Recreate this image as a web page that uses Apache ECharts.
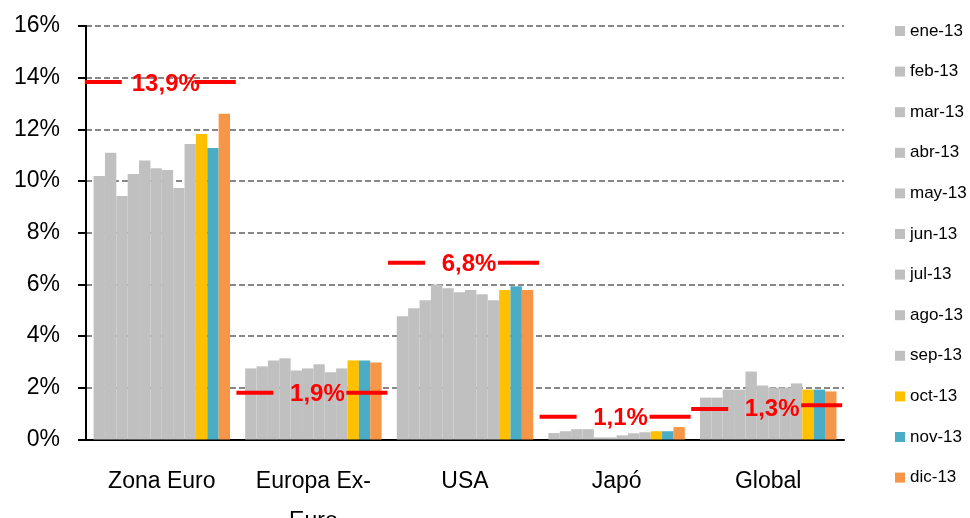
<!DOCTYPE html>
<html>
<head>
<meta charset="utf-8">
<script src="https://cdn.jsdelivr.net/npm/echarts@6/dist/echarts.min.js"></script>
<style>
  html, body { margin: 0; padding: 0; background: #fff; }
  #main { width: 970px; height: 518px; }
</style>
</head>
<body>
<div id="main"></div>
<script>
    // categorias y meses
    var regions = ['Zona Euro', 'Europa Ex-\nEuro', 'USA', 'Japó', 'Global'];
    var months = ['ene-13', 'feb-13', 'mar-13', 'abr-13', 'may-13', 'jun-13',
                  'jul-13', 'ago-13', 'sep-13', 'oct-13', 'nov-13', 'dic-13'];
    var monthColors = ['#C0C0C0', '#C0C0C0', '#C0C0C0', '#C0C0C0', '#C0C0C0', '#C0C0C0',
                       '#C0C0C0', '#C0C0C0', '#C0C0C0', '#FFC000', '#4BACC6', '#F79646'];

    // valores (%) por mes, uno por region
    var ene13 = [10.2, 2.75, 4.77, 0.25, 1.62];
    var feb13 = [11.1, 2.83, 5.08, 0.32, 1.62];
    var mar13 = [9.42, 3.06, 5.39, 0.4, 1.93];
    var abr13 = [10.27, 3.14, 6.0, 0.4, 1.93];
    var may13 = [10.8, 2.67, 5.85, 0.08, 2.63];
    var jun13 = [10.5, 2.75, 5.7, 0.08, 2.09];
    var jul13 = [10.43, 2.91, 5.78, 0.16, 2.01];
    var ago13 = [9.73, 2.6, 5.62, 0.24, 2.01];
    var sep13 = [11.43, 2.75, 5.39, 0.28, 2.17];
    var oct13 = [11.82, 3.06, 5.78, 0.32, 1.93];
    var nov13 = [11.28, 3.06, 5.93, 0.32, 1.93];
    var dic13 = [12.6, 2.98, 5.78, 0.48, 1.86];
    var monthData = [ene13, feb13, mar13, abr13, may13, jun13,
                     jul13, ago13, sep13, oct13, nov13, dic13];

    // marcadores rojos: nivel izquierdo, nivel derecho, texto
    var markLeft = [13.83, 1.81, 6.84, 0.88, 1.18];
    var markRight = [13.83, 1.81, 6.84, 0.88, 1.33];
    var markText = ['13,9%', '1,9%', '6,8%', '1,1%', '1,3%'];

    var yTicks = { min: 0, max: 16, interval: 2 };

    var myChart = echarts.init(document.getElementById('main'));

    var series = months.map(function (m, i) {
        return {
            name: m,
            type: 'bar',
            barGap: 0,
            barCategoryGap: '10%',
            itemStyle: { color: monthColors[i] },
            data: monthData[i]
        };
    });

    series.push({
        name: 'marca',
        type: 'custom',
        z: 10,
        encode: { x: 0, y: [1, 2] },
        data: regions.map(function (r, i) { return [i, markLeft[i], markRight[i]]; }),
        renderItem: function (params, api) {
            var idx = api.value(0);
            var cx = api.coord([idx, 0])[0];
            var yl = api.coord([idx, api.value(1)])[1];
            var yr = api.coord([idx, api.value(2)])[1];
            return {
                type: 'group',
                children: [
                    { type: 'rect', shape: { x: cx - 77, y: yl - 2, width: 37, height: 4 }, style: { fill: '#FF0000' } },
                    { type: 'rect', shape: { x: cx + 33, y: yr - 2, width: 41, height: 4 }, style: { fill: '#FF0000' } },
                    {
                        type: 'text',
                        x: cx + 4,
                        y: (yl + yr) / 2 + 2,
                        style: {
                            text: markText[params.dataIndex],
                            fill: '#FF0000',
                            fontSize: 24,
                            fontWeight: 'bold',
                            fontFamily: 'Liberation Sans, Arial, sans-serif',
                            align: 'center',
                            verticalAlign: 'middle'
                        }
                    }
                ]
            };
        }
    });

    var option = {
        animation: false,
        textStyle: { fontFamily: 'Liberation Sans, Arial, sans-serif' },
        grid: { left: 86, right: 126, top: 26, bottom: 78.5, outerBoundsMode: 'none' },
        legend: {
            data: months,
            orient: 'vertical',
            left: 895,
            top: 21,
            padding: 0,
            itemWidth: 10,
            itemHeight: 10,
            itemGap: 20.6,
            icon: 'rect',
            textStyle: { fontSize: 17, color: '#000', lineHeight: 20 }
        },
        xAxis: {
            type: 'category',
            data: regions,
            axisLine: { lineStyle: { color: '#000', width: 2 } },
            axisTick: { length: 8, lineStyle: { color: '#000', width: 2 } },
            axisLabel: { fontSize: 23, color: '#000', margin: 22, lineHeight: 40, interval: 0 }
        },
        yAxis: {
            type: 'value',
            min: yTicks.min,
            max: yTicks.max,
            interval: yTicks.interval,
            axisLine: { show: true, lineStyle: { color: '#000', width: 2 } },
            axisTick: { show: true, length: 8, lineStyle: { color: '#000', width: 2 } },
            axisLabel: { fontSize: 23, color: '#000', margin: 26, formatter: '{value}%' },
            splitLine: { lineStyle: { color: '#888', width: 2, type: [6, 3] } }
        },
        series: series
    };
    myChart.setOption(option);
</script>
</body>
</html>
